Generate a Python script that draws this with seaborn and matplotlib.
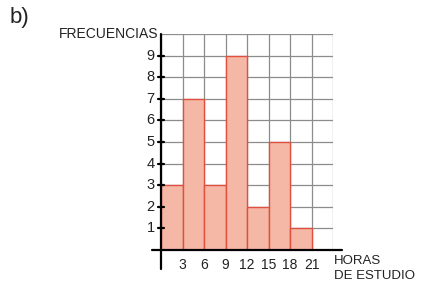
import seaborn as sns
import matplotlib.pyplot as plt
import numpy as np

# class limits (hours of study) and frequencies
bin_edges = [0, 3, 6, 9, 12, 15, 18, 21]
frequencies = [3, 7, 3, 9, 2, 5, 1]
x_ticks = [3, 6, 9, 12, 15, 18, 21]
y_ticks = [1, 2, 3, 4, 5, 6, 7, 8, 9]

sns.set_style("white")
plt.rcParams['font.family'] = ['Liberation Sans', 'DejaVu Sans']

fig = plt.figure(figsize=(4.24, 2.91), dpi=100)
ax = fig.add_axes([161 / 424, 41 / 291, 172 / 424, 216 / 291])

midpoints = [(a + b) / 2 for a, b in zip(bin_edges[:-1], bin_edges[1:])]
sns.histplot(x=midpoints, weights=frequencies, bins=bin_edges, ax=ax,
             color='#f5b8a6', edgecolor='#e0503e', linewidth=1.0, alpha=1.0, zorder=3)

ax.set_xlim(0, 24)
ax.set_ylim(0, 10)
ax.set_xticks(np.arange(0, 25, 3))
ax.set_yticks(np.arange(0, 11, 1))
ax.grid(True, color='#8c8c8c', linewidth=0.9, zorder=0)
ax.set_axisbelow(True)
for s in ax.spines.values():
    s.set_visible(False)
ax.tick_params(length=0, labelleft=False, labelbottom=False)
ax.set_xlabel('')
ax.set_ylabel('')

# axes lines extending past the grid
ax.axhline(0, xmin=-0.05, xmax=1.05, color='black', lw=1.6, clip_on=False, zorder=5)
ax.axvline(0, ymin=-0.09, ymax=1.0, color='black', lw=1.6, clip_on=False, zorder=5)

# tick crosses and labels on the y axis
for v in y_ticks:
    ax.plot([-0.45, 0.45], [v, v], color='black', lw=1.6, clip_on=False, zorder=6)
    ax.text(-0.9, v, str(v), ha='right', va='center', fontsize=10.5, color='#222222')
for v in x_ticks:
    ax.text(v, -0.35, str(v), ha='center', va='top', fontsize=10, color='#222222')

ax.text(-0.4, 10, 'FRECUENCIAS', ha='right', va='center', fontsize=10, color='#222222')
ax.text(24.1, -0.25, 'HORAS\nDE ESTUDIO', ha='left', va='top', fontsize=9.5,
        color='#222222', linespacing=1.3)
fig.text(10 / 424, 1 - 18 / 291, 'b)', ha='left', va='center', fontsize=16, color='#222222')

fig.savefig('out.png', dpi=100)
